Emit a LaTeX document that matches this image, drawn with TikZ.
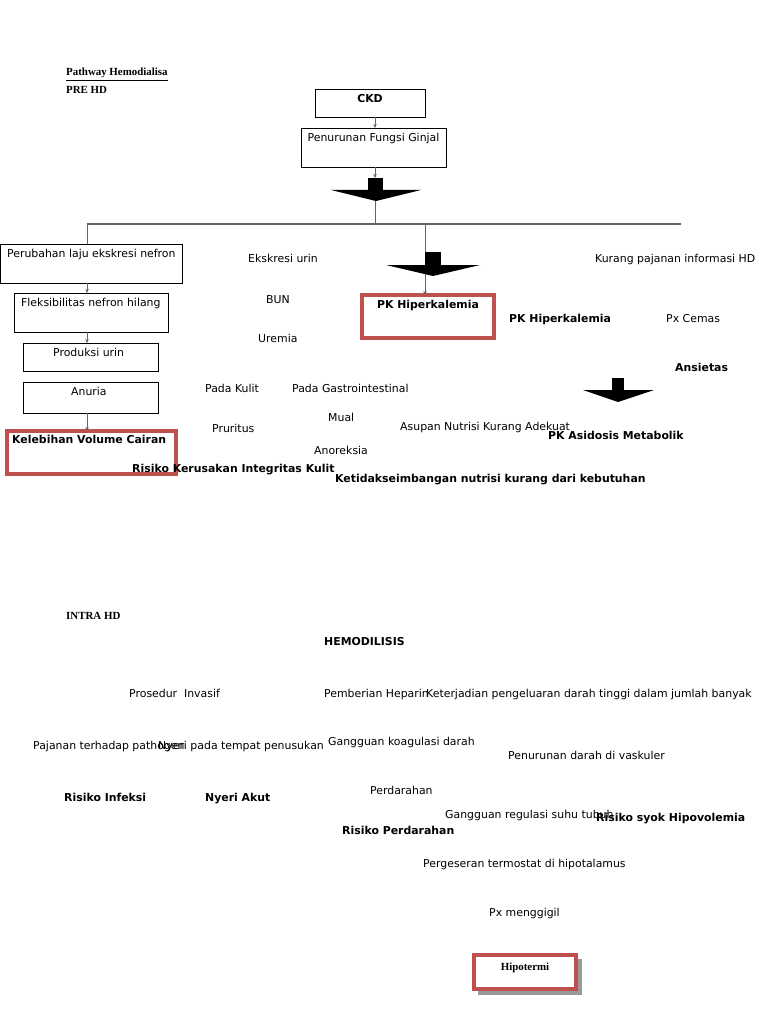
\documentclass[tikz,border=0pt]{standalone}
\usepackage{fontspec}
\setmainfont{DejaVu Sans}
\newfontfamily\serifhd{Liberation Serif}
\usetikzlibrary{arrows.meta}
\definecolor{redbox}{RGB}{192,80,77}
\definecolor{lngray}{RGB}{100,100,100}
\begin{document}
\begin{tikzpicture}[x=1pt,y=-1pt,
  txt/.style={anchor=base west, inner sep=0pt, font=\fontsize{10.9}{12}\selectfont},
  txtb/.style={anchor=base west, inner sep=0pt, font=\fontsize{10.9}{12}\selectfont\bfseries},
  hdr/.style={anchor=base west, inner sep=0pt, font=\fontsize{10.9}{12}\selectfont\serifhd\bfseries},
  boxc/.style={draw=black, line width=0.8pt, inner sep=0pt, outer sep=0pt, anchor=north west},
  redc/.style={draw=redbox, line width=4pt, inner sep=0pt, outer sep=0pt, anchor=north west},
  conn/.style={draw=lngray, line width=0.8pt, -{Stealth[length=4pt,width=3.5pt]}},
  plain/.style={draw=lngray, line width=0.8pt},
  blk/.style={fill=black}
]
\useasboundingbox (0,0) rectangle (768,1024);
\fill[white] (0,0) rectangle (768,1024);

% headers
\node[hdr] (title) at (66,76) {\underline{Pathway Hemodialisa}};
\node[hdr] (prehd) at (66,94) {PRE HD};
\node[hdr] (intrahd) at (66,619) {INTRA HD};

% top boxes
\node[boxc, minimum width=110pt, minimum height=28pt] (ckd) at (315,89) {};
\node[txtb, anchor=base] (ckdt) at (370,102.5) {CKD};
\node[boxc, minimum width=145pt, minimum height=39pt] (pfg) at (301,128) {};
\node[txt, anchor=base] (pfgt) at (373.5,141.5) {Penurunan Fungsi Ginjal};

\coordinate (ba1) at (375,178);
\draw[conn] (ba1 |- ckd.south) -- (ba1 |- pfg.north);
\draw[conn] (ba1 |- pfg.south) -- (ba1);
% block arrow 1
\fill[blk] (368,178) rectangle (383,191);
\fill[blk] (331,190) -- (421,190) -- (376,201) -- cycle;
\coordinate (ba1tip) at (375,201);
\coordinate (hl) at (87,224);
\coordinate (hr) at (681,224);
\draw[plain] (ba1tip) -- (ba1tip |- hl);
\draw[draw=lngray, line width=1.5pt] (hl) -- (hr);

% left column
\coordinate (colx) at (87,0);
\node[boxc, minimum width=182pt, minimum height=39pt] (perub) at (0,244) {};
\node[txt] (perubt) at (7,257.5) {Perubahan laju ekskresi nefron};
\node[boxc, minimum width=154pt, minimum height=39pt] (fleks) at (14,293) {};
\node[txt] (fleksT) at (21,306.5) {Fleksibilitas nefron hilang};
\node[boxc, minimum width=135pt, minimum height=28pt] (prod) at (23,343) {};
\node[txt] (prodt) at (53,356.5) {Produksi urin};
\node[boxc, minimum width=135pt, minimum height=31pt] (anur) at (23,382) {};
\node[txt] (anurt) at (71,395.5) {Anuria};
\node[redc, minimum width=169pt, minimum height=43pt] (kvc) at (7,431) {};
\node[txtb] (kvct) at (12,443.5) {Kelebihan Volume Cairan};

\draw[plain] (hl) -- (colx |- perub.north);
\draw[conn] (colx |- perub.south) -- (colx |- fleks.north);
\draw[conn] (colx |- fleks.south) -- (colx |- prod.north);
\draw[conn] (colx |- anur.south) -- (colx |- kvc.north);

% PK Hiperkalemia box
\node[redc, minimum width=132pt, minimum height=43pt] (pkh) at (362,295) {};
\node[txtb, anchor=base] (pkht) at (428,308) {PK Hiperkalemia};
\coordinate (ba2) at (425,224);
\draw[conn] (ba2) -- (ba2 |- pkh.north);
\fill[blk] (425,252) rectangle (441,266);
\fill[blk] (386,265) -- (480,265) -- (433,276) -- cycle;

% middle texts
\node[txt] (eks) at (248,262.5) {Ekskresi urin};
\node[txt] (bun) at (266,303.5) {BUN};
\node[txt] (urem) at (258,342.5) {Uremia};
\node[txt] (pkul) at (205,392.5) {Pada Kulit};
\node[txt] (pgas) at (292,392.5) {Pada Gastrointestinal};
\node[txt] (mual) at (328,421.5) {Mual};
\node[txt] (prur) at (212,432.5) {Pruritus};
\node[txt] (asup) at (400,430.5) {Asupan Nutrisi Kurang Adekuat};
\node[txt] (anor) at (314,454.5) {Anoreksia};
\node[txtb] (rkik) at (132,472.5) {Risiko Kerusakan Integritas Kulit};
\node[txtb] (ketid) at (335,482.5) {Ketidakseimbangan nutrisi kurang dari kebutuhan};

% right texts
\node[txt] (kpi) at (595,262.5) {Kurang pajanan informasi HD};
\node[txtb] (pkh2) at (509,322.5) {PK Hiperkalemia};
\node[txt] (pxc) at (666,322.5) {Px Cemas};
\node[txtb] (ansi) at (675,371.5) {Ansietas};
\fill[blk] (612,378) rectangle (624,391);
\fill[blk] (583,390) -- (654,390) -- (618,402) -- cycle;
\node[txtb] (pkam) at (548,439.5) {PK Asidosis Metabolik};

% INTRA HD
\node[txtb] (hemo) at (324,645.5) {HEMODILISIS};
\node[txt] (pros) at (129,697.5) {Prosedur\ \ Invasif};
\node[txt] (hep) at (324,697.5) {Pemberian Heparin};
\node[txt] (kej) at (426,697.5) {Keterjadian pengeluaran darah tinggi dalam jumlah banyak};
\node[txt] (paj) at (33,749.5) {Pajanan terhadap pathogen};
\node[txt] (nyp) at (158,749.5) {Nyeri pada tempat penusukan};
\node[txt] (gkd) at (328,745.5) {Gangguan koagulasi darah};
\node[txt] (pdv) at (508,759.5) {Penurunan darah di vaskuler};
\node[txtb] (rinf) at (64,801.5) {Risiko Infeksi};
\node[txtb] (nyak) at (205,801.5) {Nyeri Akut};
\node[txt] (perd) at (370,794.5) {Perdarahan};
\node[txt] (grst) at (445,818.5) {Gangguan regulasi suhu tubuh};
\node[txtb] (rsh) at (596,821.5) {Risiko syok Hipovolemia};
\node[txtb] (rper) at (342,834.5) {Risiko Perdarahan};
\node[txt] (pth) at (423,867.5) {Pergeseran termostat di hipotalamus};
\node[txt] (pxm) at (489,916.5) {Px menggigil};

% Hipotermi box with shadow
\fill[gray!80] (478,959) rectangle (582,995);
\node[draw=redbox, fill=white, line width=3.5pt, inner sep=0pt, outer sep=0pt, anchor=north west, minimum width=102pt, minimum height=34pt] (hipo) at (474,955) {};
\node[hdr, anchor=base] (hipot) at (525,970) {Hipotermi};
\end{tikzpicture}
\end{document}
